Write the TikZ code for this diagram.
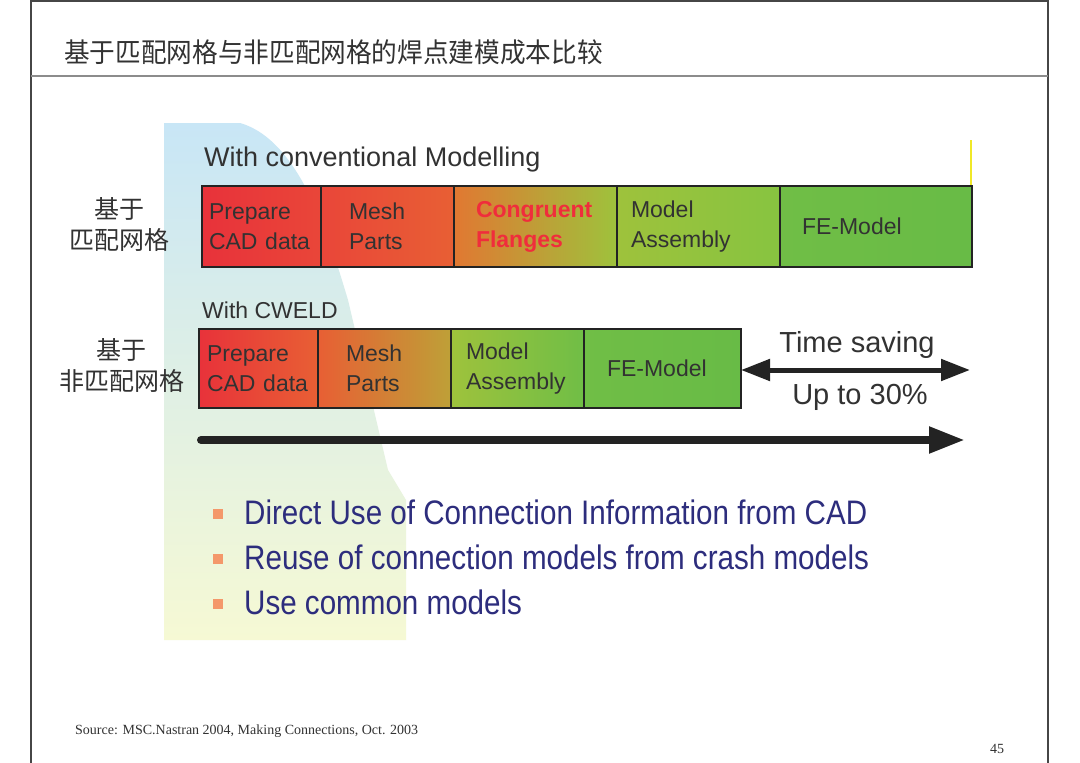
\documentclass[tikz,border=0pt]{standalone}
\usepackage{fontspec}
\setmainfont{Liberation Sans}
\newfontfamily\narrowfont{Liberation Sans}[FakeStretch=0.87]
\newfontfamily\cjk{Noto Sans CJK SC}
\newfontfamily\cjktitle{Noto Sans CJK SC}[FakeStretch=0.95]
\newfontfamily\serifface{Liberation Serif}
\usetikzlibrary{arrows.meta}
\definecolor{frame}{RGB}{70,70,70}
\definecolor{rule}{RGB}{140,140,140}
\definecolor{barline}{RGB}{35,35,35}
\definecolor{bartext}{RGB}{50,50,50}
\definecolor{cred}{RGB}{232,50,58}
\definecolor{cred2}{RGB}{233,70,57}
\definecolor{cor}{RGB}{232,95,52}
\definecolor{cor2}{RGB}{225,120,50}
\definecolor{colive}{RGB}{190,160,55}
\definecolor{cyg}{RGB}{158,194,60}
\definecolor{cyg2}{RGB}{135,196,64}
\definecolor{cgr}{RGB}{112,190,70}
\definecolor{cgr2}{RGB}{104,187,70}
\definecolor{congr}{RGB}{240,45,60}
\definecolor{navy}{RGB}{45,45,125}
\definecolor{bulletc}{RGB}{244,152,106}
\definecolor{bgtop}{RGB}{200,230,246}
\definecolor{bgmid}{RGB}{232,244,236}
\definecolor{bgbot}{RGB}{246,249,212}
\definecolor{ymark}{RGB}{240,232,40}
\definecolor{arrowc}{RGB}{35,35,35}
\begin{document}
\begin{tikzpicture}[x=1pt,y=-1pt,
  cell/.style={draw=barline, line width=2.5pt, anchor=north west, outer sep=0pt,
    align=left, text=bartext, font=\fontsize{23}{30}\selectfont, inner ysep=0pt},
  topcell/.style={cell, minimum height=81pt},
  botcell/.style={cell, minimum height=79pt},
  heading/.style={anchor=west, text=bartext, inner sep=0pt},
  cjklabel/.style={align=center, text=bartext, inner sep=0pt, font=\cjk\fontsize{25}{31}\selectfont},
  bsq/.style={fill=bulletc, minimum size=10pt, inner sep=0pt},
  btext/.style={anchor=west, text=navy, inner sep=0pt, font=\narrowfont\fontsize{34}{34}\selectfont},
  bigarrow/.style={draw=arrowc, line width=8pt, line cap=round, -{Triangle[length=36pt,width=25pt]}},
  dblarrow/.style={draw=arrowc, line width=5pt, {Triangle[length=29pt,width=21pt]}-{Triangle[length=29pt,width=21pt]}}
]
\useasboundingbox (0,0) rectangle (1080,763);
\fill[white] (0,0) rectangle (1080,763);
% frame
\draw[frame, line width=1.5pt] (31,763) -- (31,0.75) -- (1048,0.75) -- (1048,763);
\draw[rule, line width=2pt] (31,76) -- (1048,76);
% title
\node[anchor=west, inner sep=0pt, text=bartext, font=\cjktitle\fontsize{27}{27}\selectfont] (title) at (64,52) {基于匹配网格与非匹配网格的焊点建模成本比较};
% background shape
\shade[top color=bgtop, middle color=bgmid, bottom color=bgbot]
  (164,123) -- (240,123) .. controls (300,140) and (330,240) .. (348,300)
  -- (388,470) -- (406,500) -- (406,640) -- (164,640) -- cycle;
% headings
\node[heading, font=\fontsize{27}{27}\selectfont] (h1) at (204,160) {With conventional Modelling};
\node[heading, font=\fontsize{23}{23}\selectfont] (h2) at (202,310) {With CWELD};
% yellow marker
\draw[ymark, line width=2pt] (971,140) -- (971,217);
% top bar
\node[topcell, left color=cred, right color=cred2, text width=105pt, inner xsep=7pt] (a1) at (202,186) {Prepare\\CAD data};
\node[topcell, left color=cred2, right color=cor, text width=77pt, inner xsep=28pt] (a2) at (321,186) {Mesh\\Parts};
\node[topcell, left color=cor2, right color=cyg, text width=119pt, inner xsep=22pt, text=congr, font=\bfseries\fontsize{23}{30}\selectfont] (a3) at (454,186) {Congruent\\Flanges};
\node[topcell, left color=cyg, right color=cyg2, text width=135pt, inner xsep=14pt] (a4) at (617,186) {Model\\Assembly};
\node[topcell, left color=cgr, right color=cgr2, text width=148pt, inner xsep=22pt] (a5) at (780,186) {FE-Model};
% second bar
\node[botcell, left color=cred, right color=cor, text width=103pt, inner xsep=8pt] (d1) at (199,329) {Prepare\\CAD data};
\node[botcell, left color=cor, right color=colive, text width=77pt, inner xsep=28pt] (d2) at (318,329) {Mesh\\Parts};
\node[botcell, left color=cyg, right color=cgr, text width=103pt, inner xsep=15pt] (d3) at (451,329) {Model\\Assembly};
\node[botcell, left color=cgr, right color=cgr2, text width=111pt, inner xsep=23pt] (d4) at (584,329) {FE-Model};
% left labels
\node[cjklabel] (l1) at (119,225) {基于\\匹配网格};
\node[cjklabel] (l2) at (122,366) {基于\\非匹配网格};
% time saving
\coordinate (te) at (970,370);
\draw[dblarrow] (d4.east |- te) -- (te);
\node[inner sep=0pt, text=bartext, font=\fontsize{29}{29}\selectfont] (ts) at (857,345) {Time saving};
\node[inner sep=0pt, text=bartext, font=\fontsize{29}{29}\selectfont] (up) at (860,397) {Up to 30\%};
% long arrow
\coordinate (ls) at (201,440);
\coordinate (le) at (965,440);
\draw[bigarrow] (ls) -- (le);
% bullets
\node[bsq] (b1) at (218,514) {};
\node[bsq] (b2) at (218,559) {};
\node[bsq] (b3) at (218,604) {};
\node[btext] (t1) at (244,512) {Direct Use of Connection Information from CAD};
\node[btext] (t2) at (244,557) {Reuse of connection models from crash models};
\node[btext] (t3) at (244,602) {Use common models};
% footer
\node[anchor=west, inner sep=0pt, text=bartext, font=\serifface\fontsize{14}{14}\selectfont] (src) at (75,731) {Source: MSC.Nastran 2004, Making Connections, Oct. 2003};
\node[inner sep=0pt, text=bartext, font=\serifface\fontsize{14}{14}\selectfont] (pg) at (997,749) {45};
\end{tikzpicture}
\end{document}
